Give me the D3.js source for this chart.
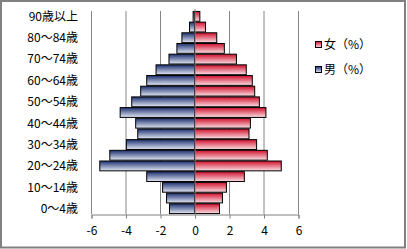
<!DOCTYPE html>
<html>
<head>
<meta charset="utf-8">
<script src="https://cdn.jsdelivr.net/npm/d3@7/dist/d3.min.js"></script>
<style>
  body { margin: 0; background: #fff; }
  text { font-family: "Noto Sans CJK JP", "Noto Sans", sans-serif; font-size: 12px; fill: #000; }
</style>
</head>
<body>
<div id="main"></div>
<script>
// age groups, bottom to top
const ages = ["0～4歳", "5～9歳", "10～14歳", "15～19歳", "20～24歳", "25～29歳", "30～34歳",
    "35～39歳", "40～44歳", "45～49歳", "50～54歳", "55～59歳", "60～64歳", "65～69歳",
    "70～74歳", "75～79歳", "80～84歳", "85～89歳", "90歳以上"];
const female = [1.45, 1.62, 1.85, 2.89, 5.03, 4.22, 3.6, 3.16, 3.24, 4.14, 3.76, 3.49, 3.35, 3.0, 2.43, 1.73, 1.29, 0.64, 0.31];
const male = [1.45, 1.62, 1.85, 2.77, 5.49, 4.91, 3.95, 3.29, 3.41, 4.31, 3.64, 3.12, 2.77, 2.23, 1.48, 1.02, 0.73, 0.29, 0.08];
const xTicks = [-6, -4, -2, 0, 2, 4, 6];
const legendItems = [{ name: "女（%）", grad: "gFemale" }, { name: "男（%）", grad: "gMale" }];

const ctx = {
    w: 407,
    h: 249,
    left: 91,
    right: 298,
    top: 11,
    bottom: 214,
    grid: "#868686",
};

const svg = d3.select("#main").append("svg")
    .attr("width", ctx.w)
    .attr("height", ctx.h);

// gradients (dark at top, pale at bottom)
const defs = svg.append("defs");
function addGrad(id, c1, c2) {
    let g = defs.append("linearGradient").attr("id", id)
        .attr("x1", 0).attr("y1", 0).attr("x2", 0).attr("y2", 1);
    g.append("stop").attr("offset", "0%").attr("stop-color", c1);
    g.append("stop").attr("offset", "100%").attr("stop-color", c2);
}
addGrad("gMale", "#1c3070", "#e4e8f4");
addGrad("gFemale", "#d0102c", "#fbe0e5");

// outer frame
svg.append("rect")
    .attr("x", 1).attr("y", 1)
    .attr("width", ctx.w - 3).attr("height", ctx.h - 2.5)
    .attr("fill", "#fff")
    .attr("stroke", "#808080")
    .attr("stroke-width", 2);

const x = d3.scaleLinear().domain([-6, 6]).range([ctx.left, ctx.right]);
const y = d3.scaleBand()
    .domain(ages.slice().reverse())
    .range([ctx.top, ctx.bottom])
    .paddingInner(0.08)
    .paddingOuter(0.04);

// vertical gridlines
svg.append("g").selectAll("line")
    .data(xTicks.filter((d) => d !== 0))
    .enter()
    .append("line")
    .attr("x1", (d) => x(d) + 0.5)
    .attr("x2", (d) => x(d) + 0.5)
    .attr("y1", ctx.top)
    .attr("y2", ctx.bottom)
    .attr("stroke", ctx.grid);

// bars
const rows = ages.map((a, i) => ({ age: a, f: female[i], m: male[i] }));
const barG = svg.append("g");
barG.selectAll("rect.m")
    .data(rows)
    .enter()
    .append("rect")
    .attr("class", "m")
    .attr("x", (d) => x(-d.m))
    .attr("y", (d) => y(d.age))
    .attr("width", (d) => x(0) - x(-d.m))
    .attr("height", y.bandwidth())
    .attr("fill", "url(#gMale)")
    .attr("stroke", "#000")
    .attr("stroke-width", 1);
barG.selectAll("rect.f")
    .data(rows)
    .enter()
    .append("rect")
    .attr("class", "f")
    .attr("x", x(0))
    .attr("y", (d) => y(d.age))
    .attr("width", (d) => x(d.f) - x(0))
    .attr("height", y.bandwidth())
    .attr("fill", "url(#gFemale)")
    .attr("stroke", "#000")
    .attr("stroke-width", 1);

// zero axis
svg.append("line")
    .attr("x1", x(0) + 0.5).attr("x2", x(0) + 0.5)
    .attr("y1", ctx.top - 2).attr("y2", ctx.bottom)
    .attr("stroke", "#808080");

// category labels (every other one)
svg.append("g").selectAll("text")
    .data(ages.filter((d, i) => i % 2 === 0))
    .enter()
    .append("text")
    .attr("x", 78)
    .attr("y", (d) => y(d) + y.bandwidth() / 2)
    .attr("dy", "0.36em")
    .attr("text-anchor", "end")
    .text((d) => d);

// bottom axis
const xAxis = svg.append("g")
    .attr("transform", `translate(0.5,${ctx.bottom + 0.5})`)
    .call(d3.axisBottom(x).tickValues(xTicks).tickSize(4).tickPadding(8).tickFormat(d3.format("d")));
xAxis.select(".domain").attr("stroke", "#808080");
xAxis.selectAll(".tick line").attr("stroke", "#808080");
xAxis.selectAll(".tick text")
    .style("font-family", "\"Noto Sans CJK JP\", sans-serif")
    .style("font-size", "12px")
    .text((d) => d < 0 ? "-" + Math.abs(d) : d);

// legend
const lg = svg.append("g").attr("transform", "translate(315,45)");
const li = lg.selectAll("g")
    .data(legendItems)
    .enter()
    .append("g")
    .attr("transform", (d, i) => `translate(0,${i * 25})`);
li.append("rect")
    .attr("x", 0.5).attr("y", -3.5)
    .attr("width", 6).attr("height", 6)
    .attr("fill", (d) => `url(#${d.grad})`)
    .attr("stroke", "#000");
li.append("text")
    .attr("x", 9)
    .attr("dy", "0.36em")
    .text((d) => d.name);
</script>
</body>
</html>
